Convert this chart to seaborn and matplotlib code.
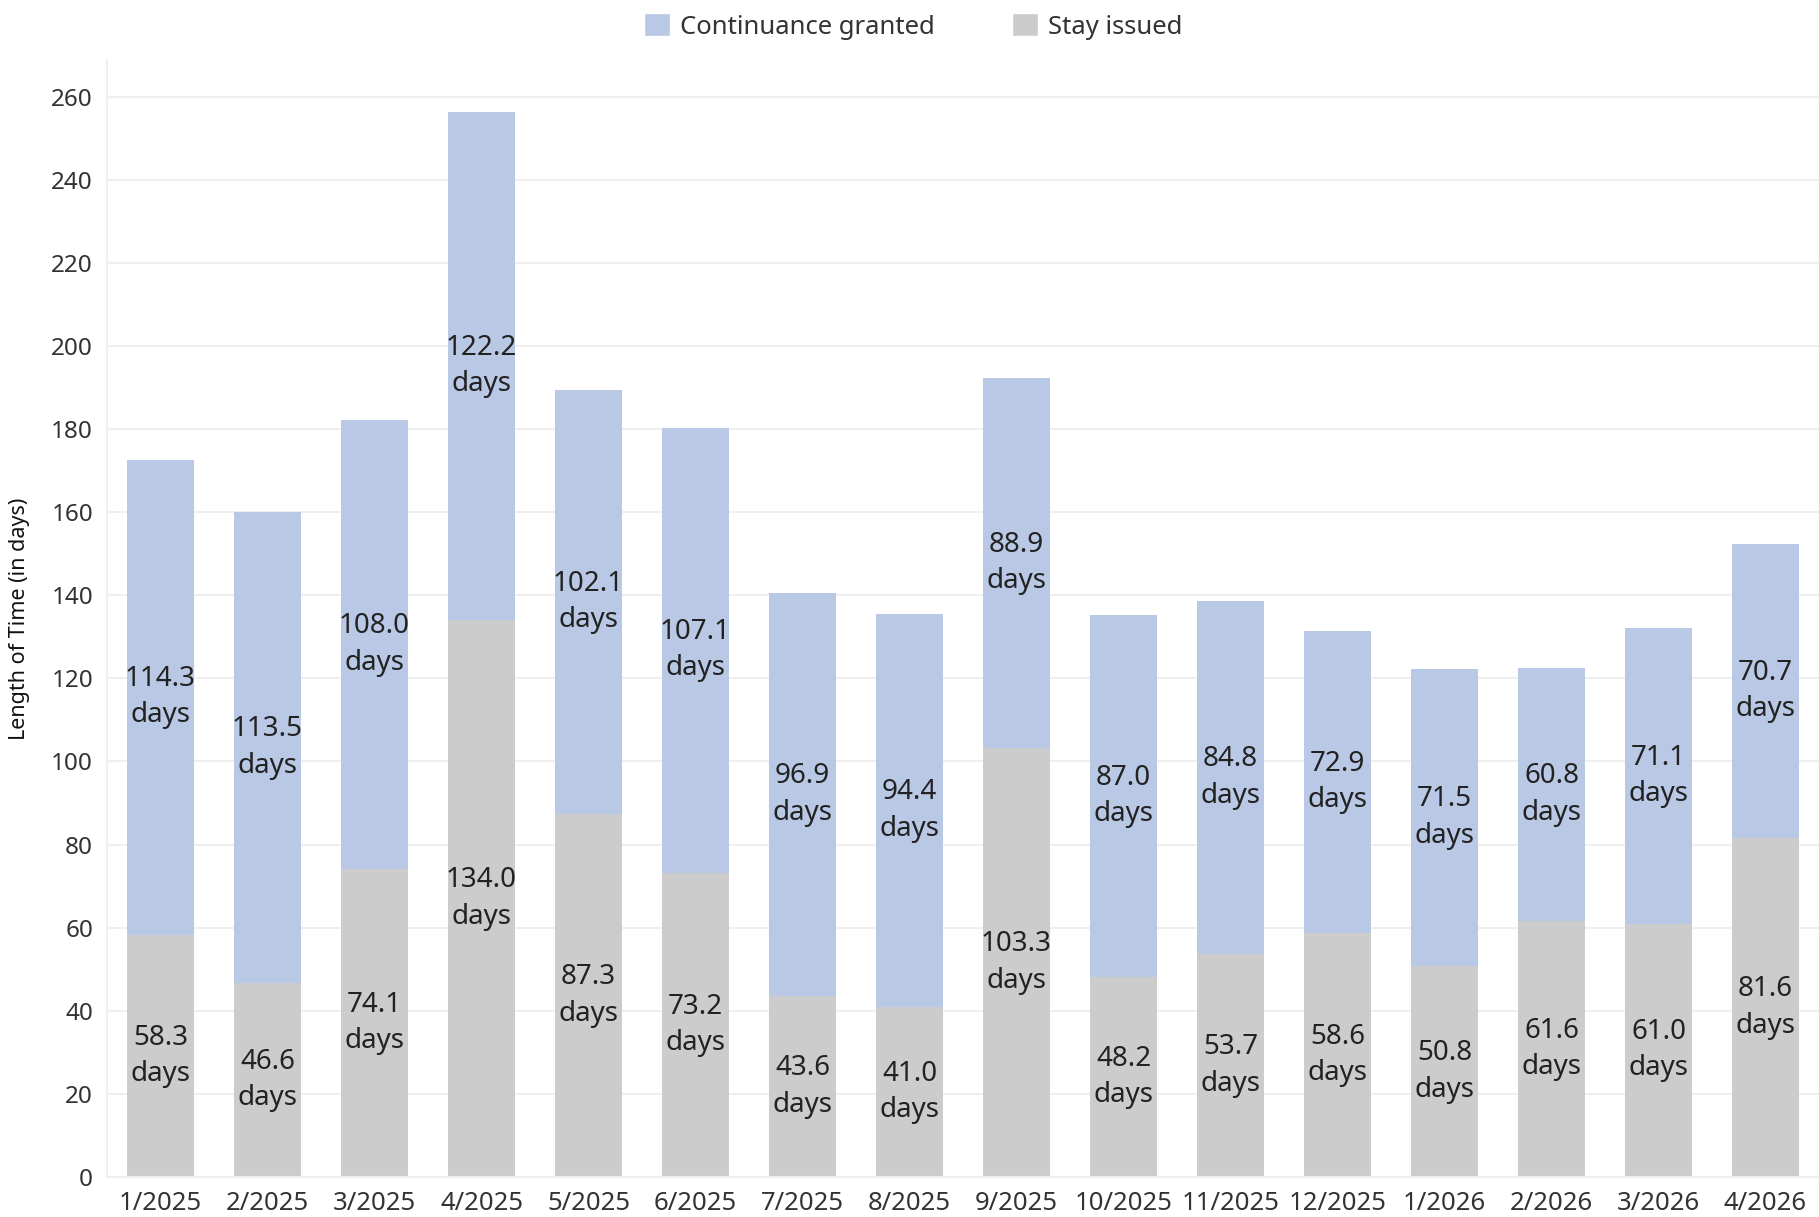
import numpy as np
import pandas as pd
import matplotlib.pyplot as plt
import seaborn as sns
from matplotlib.patches import Patch

# 数据
months = ['1/2025', '2/2025', '3/2025', '4/2025', '5/2025', '6/2025', '7/2025', '8/2025',
          '9/2025', '10/2025', '11/2025', '12/2025', '1/2026', '2/2026', '3/2026', '4/2026']
stay = [58.3, 46.6, 74.1, 134.0, 87.3, 73.2, 43.6, 41.0,
        103.3, 48.2, 53.7, 58.6, 50.8, 61.6, 61.0, 81.6]
cont = [114.3, 113.5, 108.0, 122.2, 102.1, 107.1, 96.9, 94.4,
        88.9, 87.0, 84.8, 72.9, 71.5, 60.8, 71.1, 70.7]

blue = '#B9C8E4'
gray = '#CCCCCC'
grid_c = '#EFEFEF'

sns.set_style('white')
plt.rcParams['font.family'] = ['Noto Sans', 'DejaVu Sans']

df = pd.DataFrame({'month': months, 'stay': stay, 'cont': cont})

fig = plt.figure(figsize=(18.19, 12.17), dpi=100)
ax = fig.add_axes([107 / 1819, 1 - 1177 / 1217, 1 - 107 / 1819, (1177 - 60) / 1217])

sns.barplot(data=df, x='month', y='stay', color=gray, width=0.62, saturation=1,
            linewidth=0, ax=ax, zorder=2)
sns.barplot(data=df, x='month', y='cont', bottom=df['stay'], color=blue, width=0.62,
            saturation=1, linewidth=0, ax=ax, zorder=2)

# 标签
for i, (s, c) in enumerate(zip(stay, cont)):
    ax.text(i, s / 2, f'{s:.1f}\ndays', ha='center', va='center', fontsize=20,
            color='#222222', linespacing=1.4, zorder=3)
    ax.text(i, s + c / 2, f'{c:.1f}\ndays', ha='center', va='center', fontsize=20,
            color='#222222', linespacing=1.4, zorder=3)

ax.set_xlim(-0.5, 15.5)
ax.set_ylim(0, 268.8)
ax.set_yticks(np.arange(0, 261, 20))
ax.yaxis.grid(True, color=grid_c, linewidth=1.5, zorder=0)
ax.set_axisbelow(True)

for sp in ['top', 'right']:
    ax.spines[sp].set_visible(False)
ax.spines['left'].set_color(grid_c)
ax.spines['left'].set_linewidth(1.5)
ax.spines['bottom'].set_color(grid_c)
ax.spines['bottom'].set_linewidth(1.5)

ax.tick_params(axis='y', length=8, width=1.5, color=grid_c, labelsize=17.5, labelcolor='#333333', pad=2)
ax.tick_params(axis='x', which='major', length=0, labelsize=18.5, labelcolor='#333333', pad=10)
ax.set_xticks(np.arange(-0.5, 16, 1), minor=True)
ax.tick_params(axis='x', which='minor', length=10, width=1.5, color=grid_c)

ax.set_xlabel('')
ax.set_ylabel('Length of Time (in days)', fontsize=15.5, color='#111111', fontweight='medium')
ax.yaxis.set_label_coords(-0.045, 0.5)

handles = [Patch(facecolor=blue, label='Continuance granted'),
           Patch(facecolor=gray, label='Stay issued')]
fig.legend(handles=handles, loc='upper center', bbox_to_anchor=(0.502, 1.008), ncol=2,
           frameon=False, fontsize=18.5, handlelength=1.0, handleheight=1.0,
           handletextpad=0.4, columnspacing=3.0, labelcolor='#333333')

plt.savefig('out.png', dpi=100)
